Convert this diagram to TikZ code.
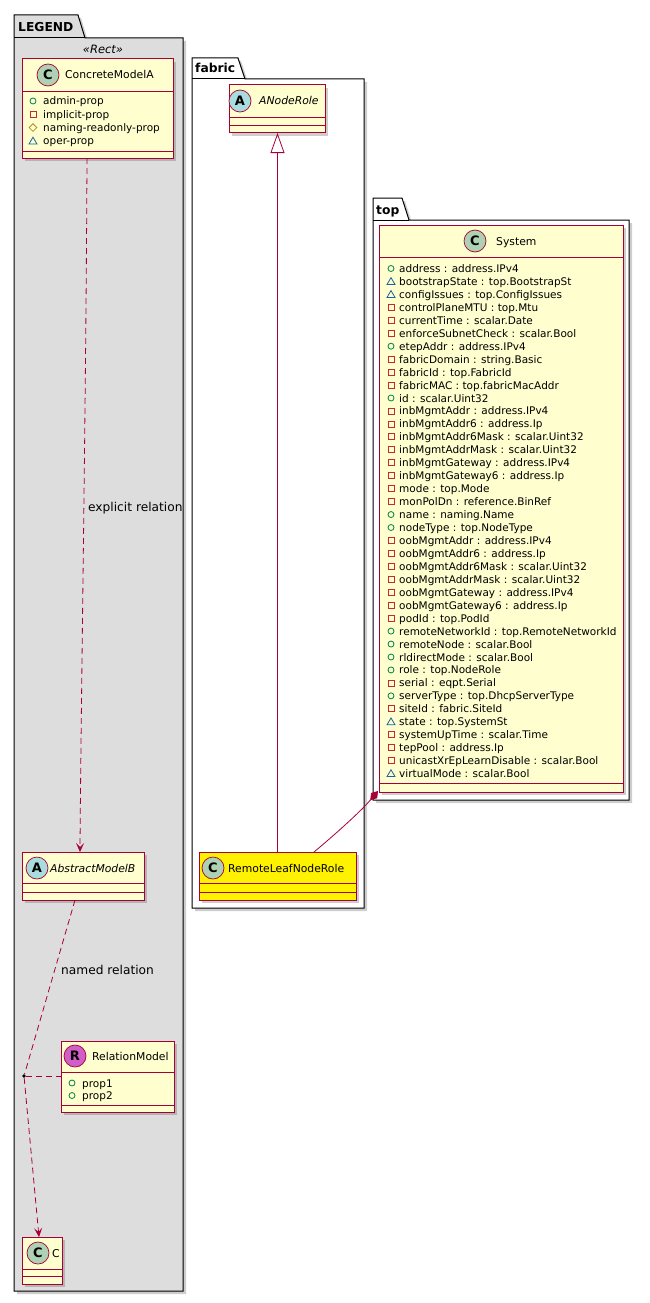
\documentclass[tikz,border=0pt]{standalone}
\usepackage{fontspec}
\setmainfont{DejaVu Sans}
\usetikzlibrary{arrows.meta,shadows}
\definecolor{umlbord}{HTML}{A80036}
\definecolor{umlfill}{HTML}{FEFECE}
\definecolor{spotc}{HTML}{ADD1B2}
\definecolor{spota}{HTML}{A9DCDF}
\definecolor{spotr}{HTML}{D15EC8}
\definecolor{legendbg}{HTML}{DDDDDD}
\definecolor{vpubc}{HTML}{038048}
\definecolor{vprivc}{HTML}{C82930}
\definecolor{vprotc}{HTML}{B38D22}
\definecolor{vpkgc}{HTML}{1963A0}
\newcommand\vispub[2]{\draw[draw=vpubc, line width=0.8pt] (#1,#2) circle (3pt);}
\newcommand\vispriv[2]{\draw[draw=vprivc, line width=0.8pt] (#1-3,#2-3) rectangle (#1+3,#2+3);}
\newcommand\visprot[2]{\draw[draw=vprotc, line width=0.8pt] (#1,#2-3.8) -- (#1+3.8,#2) -- (#1,#2+3.8) -- (#1-3.8,#2) -- cycle;}
\newcommand\vispkg[2]{\draw[draw=vpkgc, line width=0.8pt] (#1-4,#2+3) -- (#1+4,#2+3) -- (#1,#2-3.8) -- cycle;}
\tikzset{
  umlshadow/.style={drop shadow={shadow xshift=3pt, shadow yshift=-3pt, opacity=.28, fill=black!70}},
  cls/.style={draw=umlbord, fill=umlfill, line width=1pt, inner sep=0, outer sep=0, anchor=north west, umlshadow},
  sepline/.style={draw=umlbord, line width=0.8pt},
  spot/.style={circle, draw=umlbord, line width=0.7pt, minimum size=22pt, inner sep=0, font=\bfseries\fontsize{13}{13}\selectfont},
  cname/.style={font=\fontsize{10.8}{12}\selectfont, inner sep=0, anchor=base west},
  attr/.style={font=\fontsize{10.5}{12}\selectfont, inner sep=0, anchor=base west},
  pkg/.style={draw=black, line width=1pt, umlshadow},
  pkgline/.style={draw=black, line width=1pt},
  ptitle/.style={font=\bfseries\fontsize{12.3}{13}\selectfont, inner sep=0, anchor=base west},
  rel/.style={draw=umlbord, line width=0.8pt},
  reldash/.style={dash pattern=on 6pt off 4pt},
  lbl/.style={font=\fontsize{12.2}{13}\selectfont, inner sep=0, anchor=west},
  openhead/.style={-{Stealth[length=9pt,width=8pt,inset=4pt]}}
}
\begin{document}
\begin{tikzpicture}[x=1pt,y=-1pt]
\useasboundingbox (0,0) rectangle (650,1303);
% ---------- packages ----------
\path[pkg, fill=legendbg] (14,38) -- (14,15) -- (78,15) -- (85,38) -- (183,38) -- (183,1291) -- (14,1291) -- cycle;
\draw[pkgline] (14,38) -- (85,38);
\node[ptitle] (legendt) at (18,32) {LEGEND};
\node[font=\itshape\fontsize{11.5}{12}\selectfont, inner sep=0] (stereo) at (103,49) {«Rect»};

\path[pkg, fill=white] (192,79) -- (192,58) -- (238,58) -- (245,79) -- (364,79) -- (364,908) -- (192,908) -- cycle;
\draw[pkgline] (192,79) -- (245,79);
\node[ptitle] (fabrict) at (195,73) {fabric};

\path[pkg, fill=white] (373,220) -- (373,198) -- (402,198) -- (409,220) -- (629,220) -- (629,800) -- (373,800) -- cycle;
\draw[pkgline] (373,220) -- (409,220);
\node[ptitle] (topt) at (376,214) {top};

% ---------- ConcreteModelA ----------
\node[cls, minimum width=151pt, minimum height=99pt] (cma) at (22,59) {};
\draw[sepline] (22,91) -- (173,91);
\draw[sepline] (22,151) -- (173,151);
\node[spot, fill=spotc] (cmaspot) at (48,75) {C};
\node[cname] (cmaname) at (65,79) {ConcreteModelA};
\vispub{33}{101}
\node[attr] (cmaa1) at (43,105) {admin-prop};
\vispriv{33}{114.3}
\node[attr] (cmaa2) at (43,118.3) {implicit-prop};
\visprot{33}{127.6}
\node[attr] (cmaa3) at (43,131.6) {naming-readonly-prop};
\vispkg{33}{141}
\node[attr] (cmaa4) at (43,145) {oper-prop};

% ---------- AbstractModelB ----------
\node[cls, minimum width=122pt, minimum height=48pt] (amb) at (22,852) {};
\draw[sepline] (22,883) -- (144,883);
\draw[sepline] (22,892) -- (144,892);
\node[spot, fill=spota] (ambspot) at (37,868) {A};
\node[cname, font=\itshape\fontsize{10.8}{12}\selectfont] (ambname) at (50,872) {AbstractModelB};

% ---------- RelationModel ----------
\node[cls, minimum width=113pt, minimum height=71pt] (rm) at (61,1041) {};
\draw[sepline] (61,1072) -- (174,1072);
\draw[sepline] (61,1105) -- (174,1105);
\node[spot, fill=spotr] (rmspot) at (75,1056) {R};
\node[cname] (rmname) at (92,1060) {RelationModel};
\vispub{72}{1083}
\node[attr] (rma1) at (82,1087) {prop1};
\vispub{72}{1095.5}
\node[attr] (rma2) at (82,1099.5) {prop2};

% ---------- C ----------
\node[cls, minimum width=40pt, minimum height=47pt] (cbox) at (22,1237) {};
\draw[sepline] (22,1269) -- (62,1269);
\draw[sepline] (22,1276) -- (62,1276);
\node[spot, fill=spotc] (cspot) at (38,1253) {C};
\node[cname] (cname) at (52,1257) {C};

% ---------- ANodeRole ----------
\node[cls, minimum width=96pt, minimum height=48pt] (anr) at (229,85) {};
\draw[sepline] (229,117) -- (325,117);
\draw[sepline] (229,125) -- (325,125);
\node[spot, fill=spota] (anrspot) at (240,101) {A};
\node[cname, font=\itshape\fontsize{10.8}{12}\selectfont] (anrname) at (259,105) {ANodeRole};

% ---------- RemoteLeafNodeRole ----------
\node[cls, fill=yellow, minimum width=157pt, minimum height=48pt] (rln) at (199,852) {};
\draw[sepline] (199,883) -- (356,883);
\draw[sepline] (199,892) -- (356,892);
\node[spot, fill=spotc] (rlnspot) at (213,868) {C};
\node[cname] (rlnname) at (228,872) {RemoteLeafNodeRole};

% ---------- System ----------
\node[cls, minimum width=244pt, minimum height=567pt] (sys) at (379,225) {};
\draw[sepline] (379,257) -- (623,257);
\draw[sepline] (379,783) -- (623,783);
\node[spot, fill=spotc] (sysspot) at (475,241) {C};
\node[cname] (sysname) at (496,245) {System};
\foreach \v/\t [count=\i] in {
 pub/{address : address.IPv4},
 pkg/{bootstrapState : top.BootstrapSt},
 pkg/{configIssues : top.ConfigIssues},
 priv/{controlPlaneMTU : top.Mtu},
 priv/{currentTime : scalar.Date},
 priv/{enforceSubnetCheck : scalar.Bool},
 pub/{etepAddr : address.IPv4},
 priv/{fabricDomain : string.Basic},
 priv/{fabricId : top.FabricId},
 priv/{fabricMAC : top.fabricMacAddr},
 pub/{id : scalar.Uint32},
 priv/{inbMgmtAddr : address.IPv4},
 priv/{inbMgmtAddr6 : address.Ip},
 priv/{inbMgmtAddr6Mask : scalar.Uint32},
 priv/{inbMgmtAddrMask : scalar.Uint32},
 priv/{inbMgmtGateway : address.IPv4},
 priv/{inbMgmtGateway6 : address.Ip},
 priv/{mode : top.Mode},
 priv/{monPolDn : reference.BinRef},
 pub/{name : naming.Name},
 pub/{nodeType : top.NodeType},
 priv/{oobMgmtAddr : address.IPv4},
 priv/{oobMgmtAddr6 : address.Ip},
 priv/{oobMgmtAddr6Mask : scalar.Uint32},
 priv/{oobMgmtAddrMask : scalar.Uint32},
 priv/{oobMgmtGateway : address.IPv4},
 priv/{oobMgmtGateway6 : address.Ip},
 priv/{podId : top.PodId},
 pub/{remoteNetworkId : top.RemoteNetworkId},
 pub/{remoteNode : scalar.Bool},
 pub/{rldirectMode : scalar.Bool},
 pub/{role : top.NodeRole},
 priv/{serial : eqpt.Serial},
 pub/{serverType : top.DhcpServerType},
 priv/{siteId : fabric.SiteId},
 pkg/{state : top.SystemSt},
 priv/{systemUpTime : scalar.Time},
 priv/{tepPool : address.Ip},
 priv/{unicastXrEpLearnDisable : scalar.Bool},
 pkg/{virtualMode : scalar.Bool}}{
  \pgfmathsetmacro\yy{268.5+(\i-1)*12.95}
  \csname vis\v\endcsname{391}{\yy}
  \node[attr] (sysa\i) at (399,\yy+4) {\t};
}

% ---------- relations ----------
\node[circle, fill=black, inner sep=0, minimum size=3.6pt] (dot) at (24,1076) {};
\draw[rel, reldash, openhead] ([xshift=-10.5pt]cma.south) .. controls (86,400) and (81,700) .. ([xshift=-3pt]amb.north);
\node[lbl] (lblexp) at (88,508) {explicit relation};
\draw[rel, reldash] ([xshift=-8pt]amb.south) -- (dot);
\node[lbl] (lblnamed) at (61,970) {named relation};
\draw[rel, reldash] (dot) -- (rm.west |- dot);
\draw[rel, reldash, openhead] (dot) -- ([xshift=-3pt]cbox.north);
\draw[rel, -{Triangle[length=20pt,width=14pt,fill=white]}] (rln.north) -- (rln.north |- anr.south);
\draw[rel, -{Diamond[length=12pt,width=8pt]}] ([xshift=36.5pt]rln.north) .. controls (338,832) and (362,810) .. ([xshift=-1pt,yshift=1pt]sys.south west);
\end{tikzpicture}
\end{document}
